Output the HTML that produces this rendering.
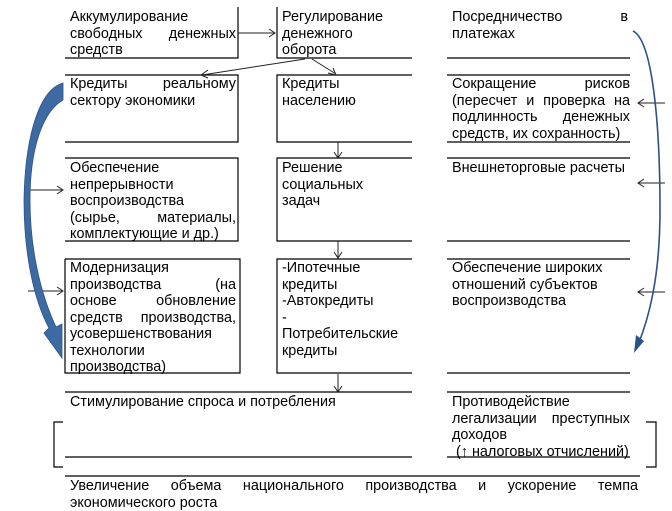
<!DOCTYPE html>
<html><head><meta charset="utf-8"><style>
body{margin:0;width:672px;height:510px;background:#fff;position:relative;overflow:hidden;font-family:"Liberation Sans",sans-serif;font-size:14.4px;line-height:16.5px;color:#000}
.t{position:absolute;text-align:justify;text-align-last:left}
svg{position:absolute;left:0;top:0}
</style></head><body>
<svg width="672" height="510">
<g stroke="#000" stroke-width="1.2" fill="none">
<path d="M238,7V58H65"/>
<path d="M65,75H238V142H65"/>
<path d="M65,158H238V241H65"/>
<path d="M65,259H240V373H65V259"/>
<path d="M277,7V58H412"/>
<path d="M412,75H277V142H412"/>
<path d="M412,158H277V241H412"/>
<path d="M412,259H277V373H412"/>
<path d="M447,58H630M447,75H630M447,142H630M447,158H630M447,241H630M447,259H630M447,373H630"/>
<path d="M65,392H412M65,457H412M447,392H630M447,457H630"/>
<path d="M63,422H54V467H63"/>
<path d="M646,422H656V467H646"/>
<path d="M65,476H640"/>
</g>
<g stroke="#222" stroke-width="1" fill="none">
<path d="M238,33H274M269,29L275,33L269,37"/>
<path d="M305,59L202,75M208,70L201,75L208,78"/>
<path d="M312,59L336,74M328,73L336,75L333,68"/>
<path d="M338,142V157M334,152L338,158L342,152"/>
<path d="M338,241V257M334,252L338,258L342,252"/>
<path d="M338,374V391M334,386L338,392L342,386"/>
<path d="M28,190H62M57,186L63,190L57,194"/>
<path d="M28,291H62M57,287L63,291L57,295"/>
<path d="M665,103H639M644,99L638,103L644,107"/>
<path d="M665,183H639M644,179L638,183L644,187"/>
<path d="M665,292H639M644,288L638,292L644,296"/>
</g>
<path d="M63,83 C38,90 25,140 24,200 C24,255 34,300 49,328 L44,333 L62,358 L62,324 L56,327 C41,295 30,250 30,200 C30,150 42,112 63,100 Z" fill="#3d6aa3" stroke="#2c5285" stroke-width="0.8"/>
<path d="M633,31 C652,40 660,120 660,210 C660,280 648,320 638,345" stroke="#2c5285" stroke-width="1.6" fill="none"/>
<path d="M634,353 L636,335 L644,341 Z" fill="#2c5285"/>
</svg>
<div class="t" style="left:70px;top:9px;width:166px">Аккумулирование свободных денежных средств</div>
<div class="t" style="left:282px;top:9px;width:118px">Регулирование денежного оборота</div>
<div class="t" style="left:452px;top:9px;width:176px">Посредничество в платежах</div>
<div class="t" style="left:70px;top:76px;width:166px">Кредиты реальному сектору экономики</div>
<div class="t" style="left:282px;top:76px;width:118px">Кредиты населению</div>
<div class="t" style="left:452px;top:76px;width:178px">Сокращение рисков (пересчет и проверка на подлинность денежных средств, их сохранность)</div>
<div class="t" style="left:70px;top:160px;width:166px">Обеспечение непрерывности воспроизводства (сырье, материалы, комплектующие и др.)</div>
<div class="t" style="left:282px;top:160px;width:118px">Решение социальных задач</div>
<div class="t" style="left:452px;top:160px;width:178px">Внешнеторговые расчеты</div>
<div class="t" style="left:70px;top:260px;width:166px">Модернизация производства (на основе обновление средств производства, усовершенствования технологии производства)</div>
<div class="t" style="left:282px;top:260px;width:118px">-Ипотечные кредиты<br>-Автокредиты<br>-<br>Потребительские кредиты</div>
<div class="t" style="left:452px;top:260px;width:178px;text-align:left">Обеспечение широких<br>отношений субъектов<br>воспроизводства</div>
<div class="t" style="left:70px;top:394px;width:340px">Стимулирование спроса и потребления</div>
<div class="t" style="left:452px;top:394px;width:178px">Противодействие легализации преступных доходов<br>&nbsp;(↑ налоговых отчислений)</div>
<div class="t" style="left:70px;top:478px;width:568px">Увеличение объема национального производства и ускорение темпа экономического роста</div>
</body></html>
